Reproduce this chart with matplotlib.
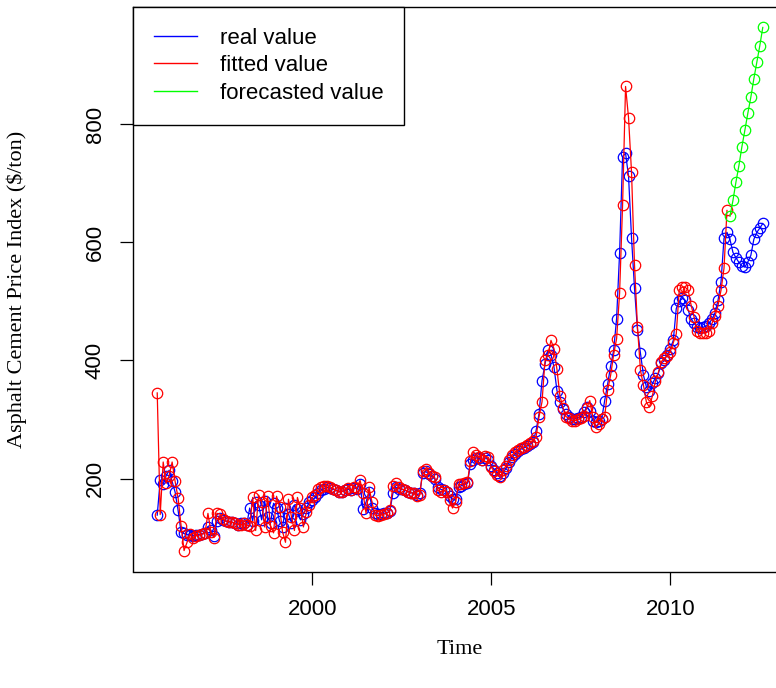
import numpy as np
import matplotlib
matplotlib.use('Agg')
import matplotlib.pyplot as plt

# monthly series, Sep 1995 .. Aug 2012 (real), Sep 1995 .. Aug 2011 (fitted)
real_1995 = [138, 197, 191, 205]
real_1996 = [214, 195, 177, 146, 109, 107, 105, 104, 103, 104, 105, 106]
real_1997 = [108, 118, 112, 102, 128, 133, 130, 128, 127, 126, 124, 122]
real_1998 = [125, 124, 122, 150, 128, 160, 155, 130, 162, 135, 125, 158]
real_1999 = [150, 128, 118, 150, 140, 125, 155, 148, 130, 140, 150, 160]
real_2000 = [163, 168, 175, 180, 183, 185, 184, 182, 180, 178, 178, 180]
real_2001 = [182, 180, 184, 183, 190, 149, 160, 178, 150, 142, 140, 140]
real_2002 = [141, 142, 145, 175, 185, 183, 182, 180, 178, 176, 175, 172]
real_2003 = [175, 210, 212, 208, 205, 200, 185, 182, 180, 178, 170, 165]
real_2004 = [165, 185, 188, 190, 192, 225, 232, 235, 234, 232, 235, 232]
real_2005 = [222, 215, 210, 205, 210, 218, 228, 236, 242, 246, 250, 252]
real_2006 = [255, 258, 262, 281, 310, 366, 394, 417, 410, 389, 349, 329]
real_2007 = [318, 310, 305, 301, 301, 303, 304, 312, 321, 315, 298, 295]
real_2008 = [298, 301, 332, 360, 391, 417, 471, 582, 745, 751, 712, 608]
real_2009 = [522, 452, 412, 375, 355, 348, 361, 370, 378, 395, 400, 410]
real_2010 = [420, 434, 488, 500, 505, 502, 485, 470, 463, 456, 455, 456]
real_2011 = [458, 463, 470, 481, 502, 533, 607, 617, 605, 583, 574, 566]
real_2012 = [560, 558, 567, 578, 605, 617, 624, 632]

fit_1995 = [345, 139, 228, 192]
fit_1996 = [205, 228, 195, 167, 120, 78, 92, 106, 100, 103, 104, 106]
fit_1997 = [107, 141, 110, 100, 141, 140, 131, 128, 127, 126, 124, 122]
fit_1998 = [121, 124, 121, 120, 168, 112, 172, 160, 118, 170, 120, 108]
fit_1999 = [170, 152, 110, 92, 165, 135, 112, 168, 150, 118, 143, 155]
fit_2000 = [168, 172, 182, 186, 188, 188, 186, 183, 180, 177, 178, 181]
fit_2001 = [184, 180, 186, 184, 197, 175, 141, 185, 160, 138, 137, 138]
fit_2002 = [140, 141, 146, 188, 192, 186, 182, 181, 178, 176, 175, 171]
fit_2003 = [172, 213, 217, 210, 205, 202, 180, 178, 180, 178, 163, 150]
fit_2004 = [160, 190, 190, 192, 194, 230, 245, 240, 236, 232, 238, 236]
fit_2005 = [219, 212, 206, 202, 214, 222, 232, 240, 245, 248, 252, 254]
fit_2006 = [257, 260, 264, 270, 305, 330, 400, 410, 434, 420, 385, 340]
fit_2007 = [320, 305, 302, 298, 298, 300, 302, 306, 320, 332, 305, 287]
fit_2008 = [292, 301, 305, 350, 375, 410, 437, 514, 663, 864, 811, 719]
fit_2009 = [562, 456, 383, 358, 329, 321, 340, 365, 380, 398, 404, 408]
fit_2010 = [415, 430, 445, 520, 524, 524, 519, 493, 473, 450, 447, 447]
fit_2011 = [447, 450, 463, 475, 493, 519, 556, 654]

# forecast, Sep 2011 .. Aug 2012
forecast = [644, 671, 702, 730, 762, 790, 819, 846, 877, 905, 933, 964]

real = np.array(real_1995 + real_1996 + real_1997 + real_1998 + real_1999 + real_2000
                + real_2001 + real_2002 + real_2003 + real_2004 + real_2005 + real_2006
                + real_2007 + real_2008 + real_2009 + real_2010 + real_2011 + real_2012, float)
fitted = np.array(fit_1995 + fit_1996 + fit_1997 + fit_1998 + fit_1999 + fit_2000
                  + fit_2001 + fit_2002 + fit_2003 + fit_2004 + fit_2005 + fit_2006
                  + fit_2007 + fit_2008 + fit_2009 + fit_2010 + fit_2011, float)
forecast = np.array(forecast, float)

start = 1995 + 8 / 12.0
t_real = start + np.arange(len(real)) / 12.0
t_fit = start + np.arange(len(fitted)) / 12.0
t_fc = t_fit[-1] + (np.arange(len(forecast)) + 1) / 12.0

plt.rcParams['font.family'] = ['Liberation Sans', 'DejaVu Sans']
plt.rcParams['font.size'] = 16

fig = plt.figure(figsize=(7.76, 6.88), dpi=100)
ax = fig.add_axes([133 / 776, 1 - 571.5 / 688, 654 / 776, 565 / 688])

mk = dict(marker='o', markersize=7.5, markerfacecolor='none', markeredgewidth=0.9, linewidth=0.9)
ax.plot(t_real, real, color='#0000ff', label='real value', **mk)
ax.plot(t_fit, fitted, color='#ff0000', label='fitted value', **mk)
ax.plot(t_fc, forecast, color='#00ff00', label='forecasted value', **mk)

# R-style 4% padding
allx = np.concatenate([t_real, t_fc])
ally = np.concatenate([real, fitted, forecast])
dx = 0.04 * (allx.max() - allx.min())
dy = 0.04 * (ally.max() - ally.min())
ax.set_xlim(allx.min() - dx, allx.max() + dx)
ax.set_ylim(ally.min() - dy, ally.max() + dy)

ax.set_xticks([2000, 2005, 2010])
ax.set_yticks([200, 400, 600, 800])
ax.tick_params(direction='out', length=9.5, width=0.9, pad=10, labelsize=16)
for lab in ax.get_yticklabels():
    lab.set_rotation(90)
    lab.set_va('center')
for s in ax.spines.values():
    s.set_linewidth(1.0)

ax.set_xlabel('Time', family=['Liberation Serif', 'DejaVu Serif'], fontsize=16)
ax.set_ylabel('Asphalt Cement Price Index ($/ton)', family=['Liberation Serif', 'DejaVu Serif'], fontsize=16)
ax.xaxis.set_label_coords(0.5, (571.5 - 650) / 565)
ax.xaxis.label.set_va('center')
ax.yaxis.set_label_coords((17 - 133) / 654, 0.5)
ax.yaxis.label.set_va('center')

leg = ax.legend(handles=[plt.Line2D([], [], color=c, lw=1.0) for c in ['#0000ff', '#ff0000', '#00ff00']],
                labels=['real value', 'fitted value', 'forecasted value'],
                loc='upper left', bbox_to_anchor=(0, 1), borderaxespad=0, fancybox=False,
                framealpha=1, edgecolor='black', fontsize=16, borderpad=0.95,
                labelspacing=0.3, handlelength=1.95, handletextpad=1.0)
leg.get_frame().set_linewidth(1.0)

fig.savefig('out.png', dpi=100)
